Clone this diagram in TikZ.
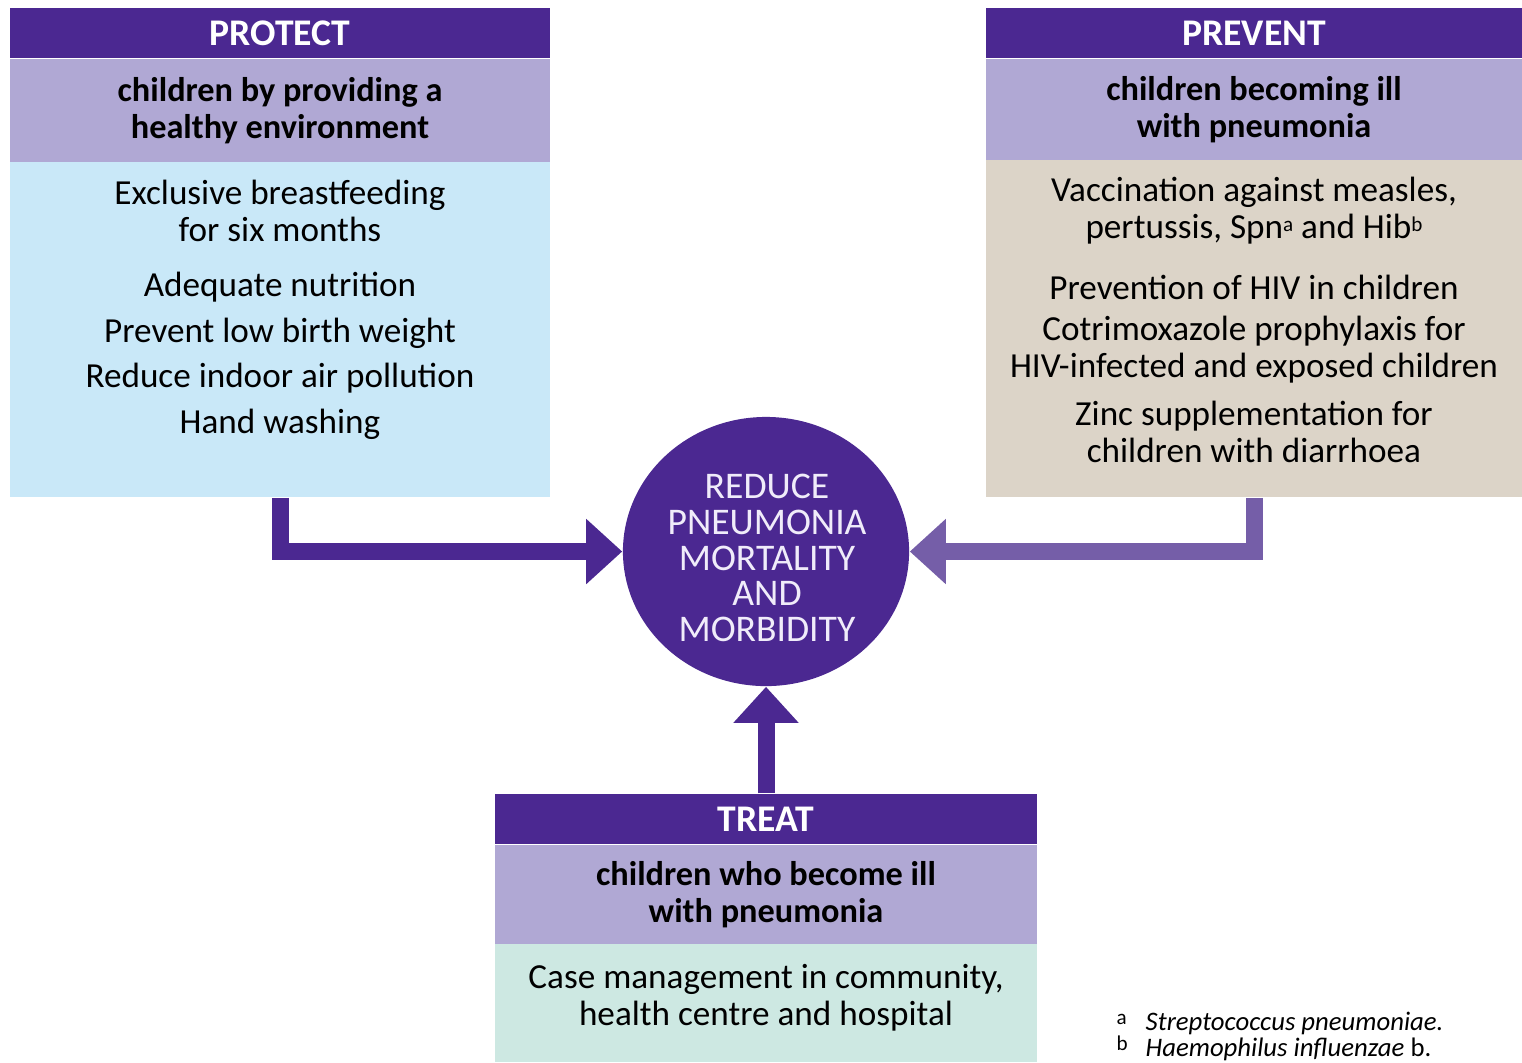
\documentclass[tikz,border=0pt]{standalone}
\usepackage{fontspec}
\setmainfont{Carlito}
\usetikzlibrary{arrows.meta,shapes.geometric}

\definecolor{deeppurple}{RGB}{75,40,145}
\definecolor{midpurple}{RGB}{117,94,168}
\definecolor{lilac}{RGB}{176,168,212}
\definecolor{skyblue}{RGB}{201,232,248}
\definecolor{sand}{RGB}{220,212,200}
\definecolor{mint}{RGB}{205,232,226}
\definecolor{paletext}{RGB}{240,236,250}

\newcommand{\mainsize}{\fontsize{10}{10.5}\selectfont}
\newcommand{\supmark}[1]{\raisebox{0.45ex}{\fontsize{6}{6}\selectfont #1}}

\begin{document}
\begin{tikzpicture}[x=0.01cm,y=-0.01cm,
    every node/.style={font=\mainsize},
    headbar/.style={fill=deeppurple,text=white,font=\fontsize{10.7}{11}\selectfont\bfseries,
        inner sep=0pt,minimum height=0.5cm},
    subbar/.style={fill=lilac,font=\fontsize{9.75}{10.5}\selectfont\bfseries,align=center,inner sep=0pt},
    bodybox/.style={fill=#1,inner sep=0pt},
    item/.style={align=center,inner sep=0pt},
    bigarrow/.style={line width=0.17cm,line join=miter,
        -{Triangle[length=0.36cm,width=0.63cm]}},
    footnote/.style={anchor=base west,inner sep=0pt,
        font=\fontsize{7.6}{8}\selectfont\itshape}]

    \useasboundingbox (0,0) rectangle (1522,1062);

    % Protect
    \node[headbar,minimum width=5.4cm] (protecthead) at (280,33) {PROTECT};
    \node[subbar,minimum width=5.4cm,minimum height=1.04cm] (protectsub) at (280,111)
        {children by providing a\\healthy environment};
    \node[bodybox=skyblue,minimum width=5.4cm,minimum height=3.35cm] (protectbody) at (280,329.5) {};
    \node[item] (breast) at (280,211) {Exclusive breastfeeding\\for six months};
    \node[item] (nutrition) at (280,287) {Adequate nutrition};
    \node[item] (birthweight) at (280,333) {Prevent low birth weight};
    \node[item] (airpollution) at (280,378) {Reduce indoor air pollution};
    \node[item] (handwash) at (280,424) {Hand washing};

    % Prevent
    \node[headbar,minimum width=5.36cm] (preventhead) at (1254,33) {PREVENT};
    \node[subbar,minimum width=5.36cm,minimum height=1.02cm] (preventsub) at (1254,110)
        {children becoming ill\\with pneumonia};
    \node[bodybox=sand,minimum width=5.36cm,minimum height=3.37cm] (preventbody) at (1254,328.5) {};
    \node[item] (vaccine) at (1254,211)
        {Vaccination against measles,\\pertussis, Spn\supmark{a} and Hib\supmark{b}};
    \node[item] (hiv) at (1254,287) {Prevention of HIV in children};
    \node[item] (cotrim) at (1254,350) {Cotrimoxazole prophylaxis for\\HIV-infected and exposed children};
    \node[item] (zinc) at (1254,432) {Zinc supplementation for\\children with diarrhoea};

    % Treat
    \node[headbar,minimum width=5.42cm] (treathead) at (766,819) {TREAT};
    \node[subbar,minimum width=5.42cm,minimum height=1cm] (treatsub) at (766,895)
        {children who become ill\\with pneumonia};
    \node[bodybox=mint,minimum width=5.42cm,minimum height=1.18cm] (treatbody) at (766,1003) {};
    \node[item] (casemgmt) at (766,998) {Case management in community,\\health centre and hospital};

    % Centre
    \node[ellipse,fill=deeppurple,minimum width=2.86cm,minimum height=2.69cm,inner sep=0pt] (reduce) at (766,551.5) {};
    \node[item,text=paletext,font=\fontsize{10.7}{10.2}\selectfont] (reducetext) at (767,558)
        {REDUCE\\PNEUMONIA\\MORTALITY\\AND\\MORBIDITY};

    % Arrows
    \draw[bigarrow,deeppurple] (protectbody.south) |- (reduce.west);
    \draw[bigarrow,midpurple] (preventbody.south) |- (reduce.east);
    \draw[bigarrow,deeppurple] (treathead.north) -- (reduce.south);

    % Footnotes
    \node[footnote] (fnmarka) at (1116,1030) {\textup{\supmark{a}}};
    \node[footnote] (fnspn) at (1145,1030) {Streptococcus pneumoniae.};
    \node[footnote] (fnmarkb) at (1116,1056) {\textup{\supmark{b}}};
    \node[footnote] (fnhib) at (1145,1056) {Haemophilus influenzae \textup{b.}};
\end{tikzpicture}
\end{document}
